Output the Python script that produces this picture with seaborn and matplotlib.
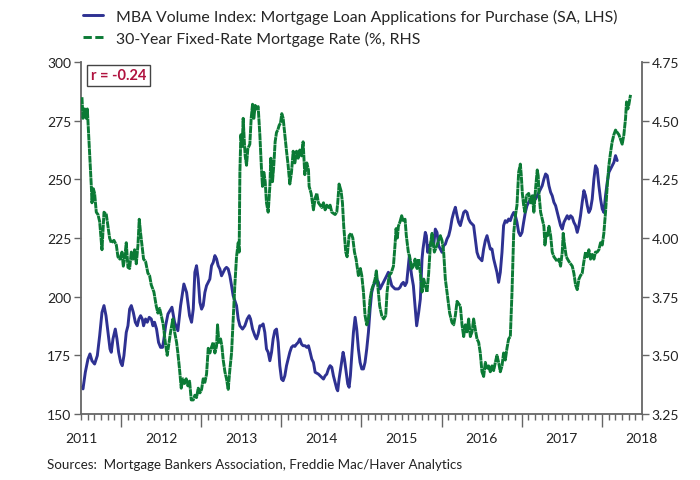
import matplotlib
matplotlib.use("Agg")
import matplotlib.pyplot as plt
from matplotlib.ticker import FixedLocator, FuncFormatter
import seaborn as sns
import pandas as pd

# weekly readings, x in decimal years
mba_t = [2011.012, 2011.025, 2011.054, 2011.087, 2011.112, 2011.137, 2011.170, 2011.204, 2011.233, 2011.262,
         2011.287, 2011.312, 2011.337, 2011.362, 2011.378, 2011.399, 2011.428, 2011.449, 2011.470, 2011.495,
         2011.515, 2011.536, 2011.565, 2011.586, 2011.607, 2011.628, 2011.653, 2011.678, 2011.702, 2011.723,
         2011.744, 2011.765, 2011.781, 2011.806, 2011.827, 2011.852, 2011.877, 2011.898, 2011.918, 2011.943,
         2011.968, 2011.993, 2012.018, 2012.035, 2012.056, 2012.085, 2012.135, 2012.168, 2012.209, 2012.243,
         2012.284, 2012.318, 2012.355, 2012.380, 2012.401, 2012.421, 2012.442, 2012.463, 2012.484, 2012.505,
         2012.525, 2012.546, 2012.567, 2012.588, 2012.608, 2012.629, 2012.650, 2012.671, 2012.692, 2012.712,
         2012.733, 2012.754, 2012.775, 2012.796, 2012.816, 2012.837, 2012.858, 2012.879, 2012.899, 2012.941,
         2012.962, 2012.983, 2013.016, 2013.045, 2013.074, 2013.099, 2013.116, 2013.141, 2013.170, 2013.190,
         2013.211, 2013.232, 2013.253, 2013.273, 2013.294, 2013.315, 2013.336, 2013.357, 2013.378, 2013.398,
         2013.419, 2013.440, 2013.461, 2013.481, 2013.502, 2013.523, 2013.544, 2013.565, 2013.585, 2013.606,
         2013.627, 2013.648, 2013.669, 2013.690, 2013.710, 2013.731, 2013.752, 2013.772, 2013.797, 2013.818,
         2013.839, 2013.860, 2013.880, 2013.901, 2013.922, 2013.963, 2014.005, 2014.026, 2014.047, 2014.067,
         2014.088, 2014.109, 2014.130, 2014.150, 2014.171, 2014.192, 2014.204, 2014.221, 2014.246, 2014.271,
         2014.288, 2014.304, 2014.329, 2014.346, 2014.362, 2014.379, 2014.400, 2014.421, 2014.441, 2014.462,
         2014.483, 2014.504, 2014.525, 2014.545, 2014.566, 2014.587, 2014.608, 2014.628, 2014.649, 2014.670,
         2014.691, 2014.712, 2014.732, 2014.753, 2014.774, 2014.795, 2014.815, 2014.836, 2014.857, 2014.878,
         2014.898, 2014.919, 2014.940, 2014.961, 2014.982, 2015.002, 2015.023, 2015.044, 2015.065, 2015.085,
         2015.098, 2015.110, 2015.127, 2015.148, 2015.169, 2015.189, 2015.214, 2015.235, 2015.256, 2015.268,
         2015.285, 2015.297, 2015.310, 2015.327, 2015.343, 2015.360, 2015.381, 2015.401, 2015.422, 2015.443,
         2015.464, 2015.485, 2015.505, 2015.526, 2015.547, 2015.568, 2015.589, 2015.609, 2015.630, 2015.651,
         2015.672, 2015.693, 2015.713, 2015.734, 2015.755, 2015.776, 2015.796, 2015.817, 2015.838, 2015.859,
         2015.880, 2015.900, 2015.921, 2015.942, 2015.963, 2015.983, 2016.004, 2016.025, 2016.046, 2016.067,
         2016.087, 2016.108, 2016.129, 2016.150, 2016.171, 2016.191, 2016.212, 2016.233, 2016.254, 2016.274,
         2016.295, 2016.316, 2016.337, 2016.358, 2016.379, 2016.400, 2016.421, 2016.441, 2016.462, 2016.483,
         2016.504, 2016.524, 2016.545, 2016.566, 2016.587, 2016.611, 2016.632, 2016.652, 2016.673, 2016.694,
         2016.715, 2016.736, 2016.756, 2016.777, 2016.798, 2016.819, 2016.840, 2016.861, 2016.881, 2016.902,
         2016.923, 2016.944, 2016.964, 2016.985, 2017.006, 2017.027, 2017.047, 2017.068, 2017.089, 2017.110,
         2017.131, 2017.151, 2017.172, 2017.193, 2017.214, 2017.234, 2017.255, 2017.276, 2017.297, 2017.318,
         2017.338, 2017.359, 2017.380, 2017.401, 2017.421, 2017.442, 2017.463, 2017.484, 2017.505, 2017.525,
         2017.546, 2017.567, 2017.588, 2017.609, 2017.629, 2017.650, 2017.671, 2017.692]
mba_v = [161.4, 160.7, 167.8, 173.4, 175.6, 172.7, 171.3, 174.9, 183.4, 193.3,
         196.2, 191.9, 184.8, 177.7, 176.3, 182.0, 186.2, 182.0, 176.3, 172.0,
         170.6, 174.9, 184.8, 187.6, 194.7, 196.2, 193.3, 189.1, 187.6, 190.5,
         191.9, 190.5, 187.6, 190.5, 189.1, 191.2, 190.5, 187.6, 189.1, 186.2,
         180.5, 178.4, 178.4, 182.0, 187.6, 192.6, 195.5, 189.1, 185.5, 196.2,
         205.4, 201.8, 191.9, 189.1, 194.7, 210.4, 213.2, 207.5, 197.6, 194.7,
         196.2, 201.8, 204.7, 206.1, 207.5, 213.2, 214.6, 217.5, 216.1, 213.2,
         211.8, 208.9, 210.4, 211.8, 212.5, 211.8, 208.9, 204.7, 200.4, 196.2,
         190.5, 187.6, 186.2, 187.6, 190.5, 191.9, 190.5, 186.2, 183.4, 182.0,
         184.1, 187.6, 187.6, 188.4, 184.8, 177.7, 176.3, 172.7, 176.3, 182.0,
         185.5, 186.2, 180.5, 170.6, 164.9, 164.2, 166.3, 170.6, 173.4, 176.3,
         178.4, 179.1, 178.8, 179.8, 180.5, 182.0, 179.8, 179.1, 179.1, 178.4,
         179.1, 176.3, 173.4, 172.0, 167.8, 167.0, 165.6, 164.9, 166.3, 167.0,
         169.2, 170.6, 169.9, 166.3, 163.5, 160.7, 159.9, 164.9, 170.6, 176.3,
         173.4, 169.2, 162.8, 161.4, 166.3, 174.9, 184.8, 191.2, 186.2, 177.7,
         172.0, 169.2, 169.2, 172.0, 177.7, 184.8, 194.7, 201.8, 204.7, 206.1,
         207.5, 206.1, 203.3, 204.7, 206.1, 207.5, 208.9, 210.4, 207.5, 204.7,
         204.0, 203.3, 203.3, 203.3, 204.0, 205.4, 206.1, 204.7, 206.1, 213.2,
         217.5, 213.2, 208.9, 204.7, 196.2, 187.6, 193.3, 199.0, 216.1, 220.3,
         224.6, 227.4, 226.0, 218.9, 221.7, 221.7, 224.6, 221.7, 228.8, 227.4,
         221.7, 220.3, 218.9, 221.7, 222.4, 224.6, 226.0, 228.8, 233.1, 235.9,
         238.1, 234.5, 231.7, 230.3, 233.1, 235.9, 236.6, 235.9, 233.1, 231.7,
         231.0, 230.3, 224.6, 218.9, 216.8, 216.1, 215.3, 220.3, 223.9, 226.0,
         223.2, 220.3, 220.3, 216.1, 213.2, 210.4, 206.1, 210.4, 218.9, 230.3,
         232.4, 231.7, 233.1, 232.4, 234.5, 235.9, 234.5, 231.7, 227.4, 226.0,
         227.4, 231.7, 235.9, 238.8, 240.2, 241.6, 240.2, 243.0, 241.6, 243.0,
         244.5, 245.9, 247.3, 250.1, 252.3, 251.6, 247.3, 244.5, 243.0, 240.2,
         238.8, 235.9, 233.1, 230.3, 228.8, 231.7, 233.1, 234.5, 233.1, 234.5,
         233.8, 231.7, 230.3, 227.4, 230.3, 234.5, 240.2, 245.2, 243.0, 238.8,
         235.9, 237.4, 241.6, 250.1, 255.8, 254.4, 247.3, 241.6, 237.4, 235.9,
         243.0, 248.7, 253.0, 254.4, 255.8, 257.2, 260.1, 258.0]

rate_t = [2011.012, 2011.025, 2011.046, 2011.066, 2011.079, 2011.096, 2011.112, 2011.129, 2011.137, 2011.154,
          2011.170, 2011.191, 2011.212, 2011.233, 2011.262, 2011.287, 2011.316, 2011.337, 2011.357, 2011.378,
          2011.411, 2011.441, 2011.461, 2011.486, 2011.511, 2011.528, 2011.544, 2011.565, 2011.586, 2011.607,
          2011.628, 2011.648, 2011.669, 2011.690, 2011.711, 2011.727, 2011.744, 2011.761, 2011.781, 2011.806,
          2011.835, 2011.856, 2011.877, 2011.910, 2011.939, 2011.960, 2011.981, 2012.002, 2012.027, 2012.052,
          2012.076, 2012.093, 2012.118, 2012.147, 2012.168, 2012.193, 2012.209, 2012.230, 2012.251, 2012.272,
          2012.292, 2012.313, 2012.334, 2012.355, 2012.376, 2012.401, 2012.421, 2012.442, 2012.463, 2012.484,
          2012.505, 2012.525, 2012.546, 2012.567, 2012.588, 2012.608, 2012.629, 2012.650, 2012.671, 2012.692,
          2012.704, 2012.721, 2012.742, 2012.758, 2012.775, 2012.796, 2012.816, 2012.837, 2012.858, 2012.879,
          2012.899, 2012.920, 2012.941, 2012.962, 2012.974, 2012.983, 2012.995, 2013.012, 2013.024, 2013.037,
          2013.049, 2013.066, 2013.082, 2013.107, 2013.124, 2013.141, 2013.157, 2013.174, 2013.190, 2013.211,
          2013.232, 2013.253, 2013.265, 2013.282, 2013.299, 2013.315, 2013.336, 2013.357, 2013.369, 2013.390,
          2013.406, 2013.423, 2013.440, 2013.456, 2013.473, 2013.490, 2013.506, 2013.523, 2013.544, 2013.565,
          2013.585, 2013.606, 2013.627, 2013.648, 2013.669, 2013.690, 2013.710, 2013.731, 2013.752, 2013.772,
          2013.793, 2013.818, 2013.839, 2013.847, 2013.872, 2013.901, 2013.922, 2013.943, 2013.963, 2013.984,
          2014.005, 2014.026, 2014.047, 2014.067, 2014.088, 2014.109, 2014.130, 2014.171, 2014.192, 2014.204,
          2014.221, 2014.246, 2014.263, 2014.279, 2014.304, 2014.321, 2014.346, 2014.371, 2014.392, 2014.413,
          2014.433, 2014.462, 2014.487, 2014.504, 2014.525, 2014.545, 2014.566, 2014.587, 2014.608, 2014.628,
          2014.649, 2014.670, 2014.686, 2014.703, 2014.728, 2014.753, 2014.778, 2014.803, 2014.820, 2014.845,
          2014.870, 2014.899, 2014.919, 2014.932, 2014.948, 2014.961, 2014.982, 2015.002, 2015.023, 2015.044,
          2015.060, 2015.085, 2015.102, 2015.127, 2015.148, 2015.169, 2015.194, 2015.214, 2015.235, 2015.256,
          2015.277, 2015.318, 2015.339, 2015.360, 2015.381, 2015.410, 2015.443, 2015.485, 2015.505, 2015.526,
          2015.547, 2015.568, 2015.601, 2015.630, 2015.651, 2015.672, 2015.693, 2015.734, 2015.755, 2015.776,
          2015.796, 2015.817, 2015.838, 2015.859, 2015.880, 2015.900, 2015.921, 2015.942, 2015.963, 2015.983,
          2016.004, 2016.025, 2016.046, 2016.067, 2016.087, 2016.108, 2016.129, 2016.150, 2016.171, 2016.191,
          2016.212, 2016.233, 2016.254, 2016.274, 2016.295, 2016.316, 2016.337, 2016.358, 2016.379, 2016.400,
          2016.421, 2016.441, 2016.462, 2016.483, 2016.495, 2016.508, 2016.524, 2016.541, 2016.558, 2016.587,
          2016.611, 2016.632, 2016.652, 2016.673, 2016.694, 2016.706, 2016.715, 2016.736, 2016.756, 2016.777,
          2016.790, 2016.807, 2016.823, 2016.840, 2016.861, 2016.881, 2016.902, 2016.923, 2016.944, 2016.964,
          2016.985, 2017.006, 2017.018, 2017.035, 2017.056, 2017.089, 2017.131, 2017.151, 2017.172, 2017.193,
          2017.214, 2017.234, 2017.255, 2017.276, 2017.297, 2017.318, 2017.338, 2017.359, 2017.380, 2017.401,
          2017.421, 2017.442, 2017.463, 2017.484, 2017.505, 2017.525, 2017.546, 2017.567, 2017.588, 2017.609,
          2017.629, 2017.650, 2017.671, 2017.692, 2017.713, 2017.733, 2017.754, 2017.775, 2017.796, 2017.808,
          2017.825, 2017.838, 2017.858]
rate_v = [4.60, 4.51, 4.55, 4.51, 4.55, 4.44, 4.34, 4.22, 4.15, 4.21,
          4.19, 4.11, 4.10, 4.07, 3.95, 4.11, 4.10, 4.05, 4.00, 3.98,
          3.99, 3.97, 3.92, 3.91, 3.94, 3.88, 3.91, 3.98, 3.875, 3.87,
          3.94, 3.91, 3.95, 3.89, 3.97, 4.08, 4.02, 3.97, 3.91, 3.90,
          3.85, 3.84, 3.80, 3.77, 3.71, 3.68, 3.70, 3.67, 3.63, 3.555,
          3.50, 3.54, 3.60, 3.655, 3.60, 3.555, 3.51, 3.44, 3.36, 3.40,
          3.38, 3.40, 3.37, 3.39, 3.31, 3.31, 3.33, 3.32, 3.36, 3.34,
          3.355, 3.40, 3.385, 3.42, 3.53, 3.51, 3.535, 3.555, 3.51, 3.54,
          3.63, 3.555, 3.57, 3.54, 3.48, 3.43, 3.40, 3.355, 3.44, 3.51,
          3.655, 3.80, 3.92, 3.98, 3.94, 4.28, 4.44, 4.39, 4.51, 4.42,
          4.35, 4.31, 4.38, 4.40, 4.51, 4.57, 4.51, 4.565, 4.55, 4.56,
          4.44, 4.29, 4.22, 4.28, 4.24, 4.15, 4.11, 4.22, 4.34, 4.24,
          4.31, 4.41, 4.45, 4.46, 4.48, 4.49, 4.53, 4.51, 4.44, 4.37,
          4.31, 4.23, 4.28, 4.37, 4.32, 4.37, 4.34, 4.375, 4.35, 4.41,
          4.27, 4.32, 4.29, 4.22, 4.19, 4.12, 4.17, 4.19, 4.15, 4.14,
          4.13, 4.15, 4.12, 4.14, 4.13, 4.14, 4.11, 4.10, 4.11, 4.15,
          4.23, 4.20, 4.15, 4.05, 3.94, 3.92, 4.01, 4.02, 4.00, 3.94,
          3.91, 3.84, 3.87, 3.84, 3.77, 3.67, 3.63, 3.655, 3.74, 3.78,
          3.80, 3.825, 3.86, 3.80, 3.71, 3.67, 3.655, 3.67, 3.77, 3.84,
          3.85, 3.88, 3.97, 4.04, 4.00, 4.05, 4.07, 4.095, 4.07, 4.08,
          4.01, 3.94, 3.92, 3.87, 3.88, 3.91, 3.87, 3.91, 3.85, 3.77,
          3.825, 3.77, 3.85, 3.97, 4.02, 3.94, 3.97, 4.01, 3.99, 3.94,
          3.825, 3.77, 3.68, 3.64, 3.63, 3.67, 3.73, 3.71, 3.63, 3.58,
          3.63, 3.60, 3.655, 3.58, 3.60, 3.655, 3.61, 3.57, 3.555, 3.51,
          3.43, 3.41, 3.47, 3.44, 3.455, 3.43, 3.455, 3.435, 3.47, 3.50,
          3.47, 3.43, 3.455, 3.51, 3.48, 3.53, 3.57, 3.58, 3.77, 4.02,
          4.095, 4.14, 4.28, 4.315, 4.265, 4.19, 4.14, 4.11, 4.18, 4.19,
          4.15, 4.18, 4.11, 4.21, 4.29, 4.265, 4.19, 4.11, 4.08, 4.05,
          3.97, 4.02, 4.01, 4.05, 4.01, 3.94, 3.92, 3.91, 3.90, 3.91,
          3.88, 3.94, 4.02, 3.97, 3.92, 3.90, 3.88, 3.85, 3.80, 3.78,
          3.825, 3.84, 3.85, 3.90, 3.94, 3.92, 3.95, 3.91, 3.93, 3.91,
          3.94, 3.94, 3.95, 3.98, 3.97, 4.02, 4.11, 4.22, 4.31, 4.365,
          4.41, 4.44, 4.46, 4.45, 4.44, 4.42, 4.40, 4.44, 4.51, 4.58,
          4.55, 4.57, 4.61]

year_labels = [str(y) for y in range(2011, 2019)]
mba_label = "MBA Volume Index: Mortgage Loan Applications for Purchase (SA, LHS)"
rate_label = "30-Year Fixed-Rate Mortgage Rate (%, RHS"
corr_text = "r = -0.24"
source_text = "Sources:  Mortgage Bankers Association, Freddie Mac/Haver Analytics"

blue = "#2E3192"
green = "#0B7A35"
axis_grey = "#666666"

sns.set_style("ticks")
plt.rcParams["font.family"] = ["Lato", "DejaVu Sans"]
plt.rcParams["lines.scale_dashes"] = False

mba = pd.DataFrame({"t": mba_t, "v": mba_v})
rate = pd.DataFrame({"t": rate_t, "v": rate_v})

fig = plt.figure(figsize=(7, 4.81), dpi=100)
ax = fig.add_axes([0.1157, 0.1372, 0.8013, 0.7318])
ax2 = ax.twinx()

sns.lineplot(data=mba, x="t", y="v", ax=ax, color=blue, linewidth=2.1, label=mba_label, legend=False)
sns.lineplot(data=rate, x="t", y="v", ax=ax2, color=green, linewidth=2.1, label=rate_label, legend=False)
ax2.lines[0].set_dashes((5, 0.35))

ax.set_xlim(2011, 2018)
ax.set_ylim(150, 300)
ax2.set_ylim(3.25, 4.75)
ax.set_xlabel("")
ax.set_ylabel("")
ax2.set_ylabel("")

ax.set_yticks(range(150, 301, 25))
ax2.set_yticks([3.25, 3.5, 3.75, 4.0, 4.25, 4.5, 4.75])
ax2.yaxis.set_major_formatter(FuncFormatter(lambda v, p: f"{v:.2f}"))

# long ticks at mid-year, monthly short ticks, year labels at Jan
months = [2011 + i / 12 for i in range(0, 85)]
ax.xaxis.set_major_locator(FixedLocator([y + 0.5 for y in range(2011, 2018)]))
ax.xaxis.set_major_formatter(FuncFormatter(lambda v, p: ""))
ax.xaxis.set_minor_locator(FixedLocator(months))
ax.xaxis.set_minor_formatter(FuncFormatter(
    lambda v, p: year_labels[int(round(v)) - 2011] if abs(v - round(v)) < 1e-6 else ""))

for a in (ax, ax2):
    for s in a.spines.values():
        s.set_color(axis_grey)
        s.set_linewidth(1.3)
    a.spines["top"].set_visible(False)
ax.spines["right"].set_visible(False)
ax2.spines["left"].set_visible(False)
ax2.spines["bottom"].set_visible(False)

ax.tick_params(axis="x", which="major", length=9, width=1, color=axis_grey, direction="out")
ax.tick_params(axis="x", which="minor", length=4, width=1, color=axis_grey, direction="out",
               labelsize=10, pad=9, labelcolor="#222222")
ax.tick_params(axis="y", length=5, width=1, color=axis_grey, labelsize=10, labelcolor="#222222", pad=2)
ax2.tick_params(axis="y", length=5, width=1, color=axis_grey, labelsize=10, labelcolor="#222222", pad=2)

ax.text(0.018, 0.962, corr_text, transform=ax.transAxes, ha="left", va="center",
        color="#B0123F", fontsize=10.5, fontweight="bold",
        bbox=dict(boxstyle="square,pad=0.25", facecolor="white", edgecolor="#444444", linewidth=1))

handles = [ax.lines[0], ax2.lines[0]]
leg = fig.legend(handles, [mba_label, rate_label], loc="upper left", bbox_to_anchor=(0.098, 1.01),
                 frameon=False, fontsize=11.4, handlelength=1.3, handletextpad=0.8, labelspacing=0.45)
leg.get_lines()[1].set_dashes((6, 2.5))

fig.text(0.067, 0.033, source_text, fontsize=9.6, color="#222222", ha="left", va="center")

fig.savefig("out.png", dpi=100)
